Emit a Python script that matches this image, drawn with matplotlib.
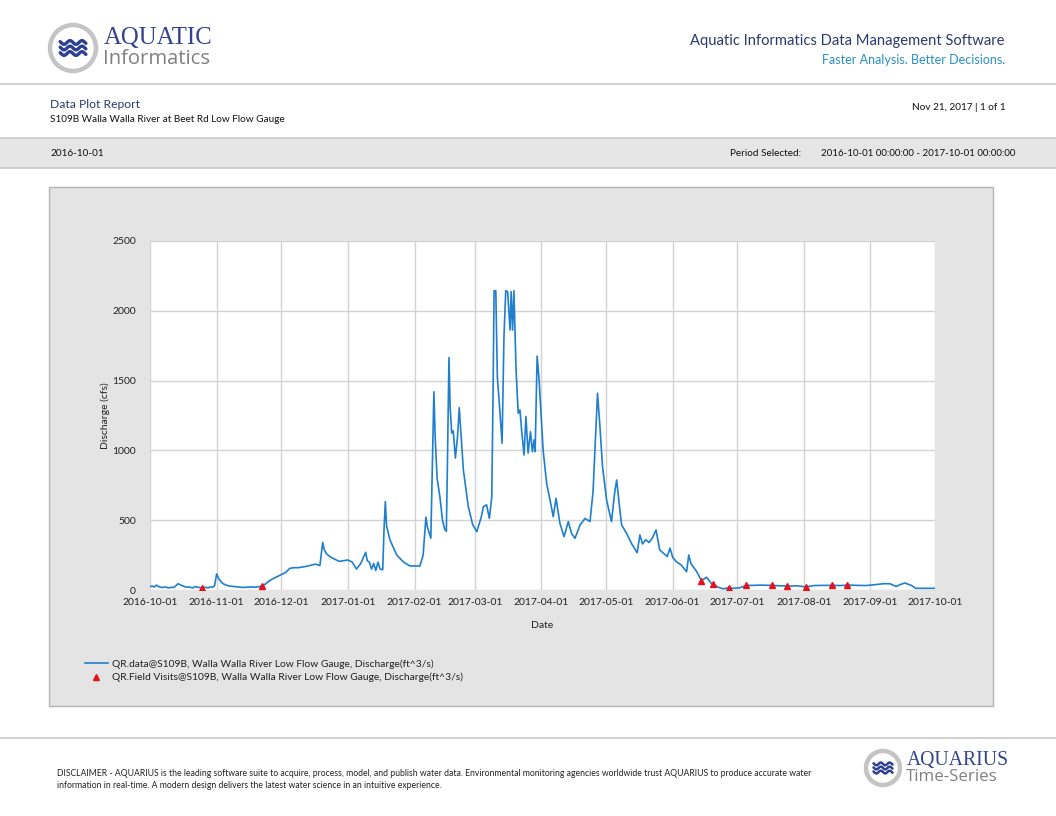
import numpy as np
import pandas as pd
import matplotlib
matplotlib.use("Agg")
import matplotlib.pyplot as plt
import matplotlib.dates as mdates
from matplotlib.patches import Rectangle, Circle

# ---------------- data ----------------
flow_times = [
    "2016-10-01", "2016-10-02", "2016-10-03", "2016-10-04", "2016-10-05", "2016-10-06",
    "2016-10-07", "2016-10-08", "2016-10-09", "2016-10-10", "2016-10-11", "2016-10-12",
    "2016-10-13", "2016-10-14", "2016-10-15", "2016-10-16", "2016-10-17", "2016-10-18",
    "2016-10-19", "2016-10-20", "2016-10-21", "2016-10-22", "2016-10-23", "2016-10-24",
    "2016-10-25", "2016-10-26", "2016-10-27", "2016-10-28", "2016-10-29", "2016-10-30",
    "2016-10-31", "2016-11-01", "2016-11-02", "2016-11-03", "2016-11-04", "2016-11-05",
    "2016-11-06", "2016-11-07", "2016-11-09", "2016-11-11", "2016-11-13", "2016-11-15",
    "2016-11-17", "2016-11-19", "2016-11-21", "2016-11-23", "2016-11-25", "2016-11-27",
    "2016-11-29", "2016-12-01", "2016-12-03", "2016-12-05", "2016-12-07", "2016-12-09",
    "2016-12-11", "2016-12-13", "2016-12-15", "2016-12-17", "2016-12-19", "2016-12-20 07:00",
    "2016-12-21", "2016-12-22", "2016-12-24", "2016-12-26", "2016-12-28", "2016-12-30",
    "2017-01-01", "2017-01-03", "2017-01-05", "2017-01-07", "2017-01-09 07:00", "2017-01-10",
    "2017-01-11", "2017-01-12", "2017-01-13", "2017-01-14", "2017-01-15", "2017-01-16",
    "2017-01-17 05:00", "2017-01-17 20:00", "2017-01-18 10:00", "2017-01-19", "2017-01-20 14:00",
    "2017-01-23 17:00", "2017-01-26 19:00", "2017-01-29 22:00", "2017-02-01", "2017-02-03 12:00",
    "2017-02-05", "2017-02-06 07:00", "2017-02-07", "2017-02-08 14:00", "2017-02-09 07:00",
    "2017-02-10", "2017-02-10 14:00", "2017-02-11 12:00", "2017-02-12 19:00", "2017-02-14",
    "2017-02-15", "2017-02-15 19:00", "2017-02-16 07:00", "2017-02-17", "2017-02-17 14:00",
    "2017-02-18 07:00", "2017-02-19", "2017-02-20", "2017-02-21", "2017-02-21 19:00",
    "2017-02-23 17:00", "2017-02-26", "2017-02-28", "2017-03-01 22:00", "2017-03-04",
    "2017-03-05", "2017-03-06 12:00", "2017-03-07 19:00", "2017-03-08 22:00", "2017-03-09 12:00",
    "2017-03-10", "2017-03-10 19:00", "2017-03-11 12:00", "2017-03-12 10:00", "2017-03-13 17:00",
    "2017-03-14 14:00", "2017-03-15 10:00", "2017-03-16 07:00", "2017-03-17 10:00",
    "2017-03-17 22:00", "2017-03-18 14:00", "2017-03-19 05:00", "2017-03-20 05:00",
    "2017-03-21 05:00", "2017-03-22", "2017-03-22 19:00", "2017-03-23 22:00", "2017-03-24 19:00",
    "2017-03-25 19:00", "2017-03-26 22:00", "2017-03-27 19:00", "2017-03-28 14:00",
    "2017-03-29 02:00", "2017-03-30", "2017-03-30 22:00", "2017-04-01 19:00", "2017-04-03 10:00",
    "2017-04-05", "2017-04-06 12:00", "2017-04-07 19:00", "2017-04-09 14:00", "2017-04-11 12:00",
    "2017-04-13 12:00", "2017-04-15", "2017-04-16 14:00", "2017-04-19", "2017-04-21 07:00",
    "2017-04-23 14:00", "2017-04-25", "2017-04-26 10:00", "2017-04-27 02:00", "2017-04-28 05:00",
    "2017-04-29 10:00", "2017-05-01 07:00", "2017-05-03 14:00", "2017-05-05", "2017-05-06",
    "2017-05-07 05:00", "2017-05-08 07:00", "2017-05-10 14:00", "2017-05-13", "2017-05-15 12:00",
    "2017-05-16 19:00", "2017-05-18", "2017-05-19 12:00", "2017-05-21", "2017-05-22 12:00",
    "2017-05-24 07:00", "2017-05-26", "2017-05-28", "2017-05-29 12:00", "2017-05-30 19:00",
    "2017-06-01", "2017-06-02 17:00", "2017-06-05", "2017-06-07 12:00", "2017-06-08 12:00",
    "2017-06-09 12:00", "2017-06-12 05:00", "2017-06-14 10:00", "2017-06-16 19:00", "2017-06-19",
    "2017-06-20 05:00", "2017-06-21 12:00", "2017-06-24 14:00", "2017-06-27 05:00", "2017-06-29",
    "2017-07-02 07:00", "2017-07-05 10:00", "2017-07-08", "2017-07-12", "2017-07-17",
    "2017-07-21", "2017-07-25", "2017-07-29", "2017-08-02", "2017-08-06", "2017-08-10",
    "2017-08-14", "2017-08-18", "2017-08-22", "2017-08-26", "2017-08-30", "2017-09-03",
    "2017-09-07", "2017-09-10", "2017-09-13", "2017-09-15", "2017-09-17", "2017-09-20",
    "2017-09-22", "2017-09-25", "2017-10-01",
]
flow_cfs = [
    25, 28, 22, 35, 24, 20,
    18, 22, 17, 15, 20, 18,
    30, 45, 38, 30, 25, 20,
    22, 18, 15, 25, 20, 18,
    15, 20, 18, 15, 22, 20,
    30, 115, 80, 60, 45, 38,
    32, 28, 25, 22, 18, 20,
    22, 20, 25, 35, 60, 80,
    95, 110, 125, 155, 160, 160,
    165, 170, 178, 185, 175, 341,
    290, 260, 235, 220, 205, 210,
    215, 200, 150, 190, 270, 210,
    200, 150, 190, 140, 200, 150,
    145, 442, 633, 458, 358,
    251, 201, 172, 172, 172,
    250, 522, 450, 371, 900,
    1420, 1100, 800, 668, 500,
    436, 420, 900, 1664, 1300,
    1124, 1140, 945, 1100, 1306,
    860, 597, 470, 418, 520,
    597, 610, 513, 669, 1400,
    2144, 2144, 1528, 1337, 1051,
    1815, 2144, 2137, 1862,
    2137, 1862, 2144, 1576,
    1266, 1290, 1146, 967, 1242,
    981, 1134, 991, 1075,
    991, 1676, 1504, 1003, 764,
    645, 525, 657, 478, 382,
    490, 406, 370, 466, 513,
    490, 704, 1194, 1409, 1170,
    883, 645, 490, 692, 788,
    609, 466, 406, 330, 267,
    394, 330, 360, 340, 370,
    430, 287, 260, 240, 300,
    235, 203, 179, 131, 251,
    190, 131, 67, 91, 48,
    40, 24, 8, 17, 12,
    16, 33, 33, 35, 33,
    30, 28, 30, 22, 32, 33,
    33, 32, 35, 33, 32, 38,
    45, 45, 25, 40, 50, 33,
    12, 12, 12,
]

visit_times = [
    "2016-10-25", "2016-11-22", "2017-06-14", "2017-06-20", "2017-06-27", "2017-07-05",
    "2017-07-17", "2017-07-24", "2017-08-02", "2017-08-14", "2017-08-21",
]
visit_cfs = [12, 29, 67, 40, 17, 33, 33, 26, 23, 33, 33]

tick_dates = [
    "2016-10-01", "2016-11-01", "2016-12-01", "2017-01-01", "2017-02-01", "2017-03-01",
    "2017-04-01", "2017-05-01", "2017-06-01", "2017-07-01", "2017-08-01", "2017-09-01",
    "2017-10-01",
]
y_ticks = [0, 500, 1000, 1500, 2000, 2500]

series_label = "QR.data@S109B, Walla Walla River Low Flow Gauge, Discharge(ft^3/s)"
visit_label = "QR.Field Visits@S109B, Walla Walla River Low Flow Gauge, Discharge(ft^3/s)"

# ---------------- figure ----------------
W, H = 1056, 816
plt.rcParams["font.family"] = ["Lato", "DejaVu Sans"]
fig = plt.figure(figsize=(W / 100, H / 100), dpi=100)
fig.patch.set_facecolor("white")

# background/overlay axes in pixel units (y downwards)
bg = fig.add_axes([0, 0, 1, 1], zorder=0)
bg.set_xlim(0, W)
bg.set_ylim(H, 0)
bg.axis("off")

NAVY = "#2b3a6e"
GREY_LINE = "#c8c8c8"
SMALL = 7.2


def logo(cx, cy, r):
    bg.add_patch(Circle((cx, cy), r, facecolor="white", edgecolor="#c4c4c4", lw=3.2))
    xs = np.linspace(-0.56 * r, 0.56 * r, 80)
    for dy in (-0.24 * r, 0.0, 0.24 * r):
        ys = cy + dy + 0.08 * r * np.sin(2 * np.pi * xs / (0.52 * r))
        bg.plot(cx + xs, ys, color="#2b3f93", lw=2.4 * r / 23, solid_capstyle="round")


# header logo
logo(73, 48, 23)
bg.text(104, 38, "AQUATIC", fontsize=17.8, color="#34428f", family="Liberation Serif",
        va="center", ha="left")
bg.text(103, 59, "Informatics", fontsize=14.6, color="#808080", family="Open Sans",
        va="center", ha="left")

bg.text(1005, 41, "Aquatic Informatics Data Management Software", fontsize=10.6,
        color=NAVY, ha="right", va="center")
bg.text(1005, 60, "Faster Analysis. Better Decisions.", fontsize=9.0,
        color="#2a8fc5", ha="right", va="center")

bg.plot([0, W], [84, 84], color=GREY_LINE, lw=1.2)

bg.text(50, 104, "Data Plot Report", fontsize=8.7, color=NAVY, ha="left", va="center")
bg.text(50, 119, "S109B Walla Walla River at Beet Rd Low Flow Gauge", fontsize=SMALL,
        color="#111111", ha="left", va="center")
bg.text(1006, 107, "Nov 21, 2017 | 1 of 1", fontsize=SMALL, color="#111111",
        ha="right", va="center")

# grey band
bg.add_patch(Rectangle((0, 138), W, 30, facecolor="#e6e6e6", edgecolor="none"))
bg.plot([0, W], [138, 138], color=GREY_LINE, lw=1.2)
bg.plot([0, W], [168, 168], color=GREY_LINE, lw=1.2)
bg.text(50, 153, "2016-10-01", fontsize=SMALL, color="#111111", ha="left", va="center")
bg.text(730, 153, "Period Selected:", fontsize=SMALL, color="#111111", ha="left", va="center")
bg.text(1015, 153, "2016-10-01 00:00:00 - 2017-10-01 00:00:00", fontsize=7.0,
        color="#111111", ha="right", va="center")

# chart panel
bg.add_patch(Rectangle((48.5, 186.5), 944, 519, facecolor="#e4e4e4",
                       edgecolor="#b4b4b4", lw=1))

# footer
bg.plot([0, W], [738, 738], color=GREY_LINE, lw=1.2)
bg.text(57, 773, "DISCLAIMER - AQUARIUS is the leading software suite to acquire, process, "
        "model, and publish water data. Environmental monitoring agencies worldwide trust "
        "AQUARIUS to produce accurate water", fontsize=6.25, color="#222222",
        ha="left", va="center")
bg.text(57, 785, "information in real-time. A modern design delivers the latest water "
        "science in an intuitive experience.", fontsize=6.25, color="#222222",
        ha="left", va="center")
logo(883, 768, 17)
bg.text(907, 760, "AQUARIUS", fontsize=14.2, color="#34428f", family="Liberation Serif",
        ha="left", va="center")
bg.text(906, 777, "Time-Series", fontsize=12.2, color="#808080", family="Open Sans",
        ha="left", va="center")

# ---------------- plot axes ----------------
ax = fig.add_axes([150 / W, 1 - 590 / H, 785 / W, 349 / H], zorder=2)
ax.set_facecolor("white")

t = pd.to_datetime(flow_times, format="mixed")
vt = pd.to_datetime(visit_times, format="mixed")
ln, = ax.plot(t, flow_cfs, color="#1f7fcf", lw=1.2, label=series_label, zorder=3)
mk, = ax.plot(vt, visit_cfs, linestyle="none", marker="^", markersize=4.8,
              color="#e3121b", label=visit_label, zorder=4)

ax.set_xlim(pd.Timestamp(tick_dates[0]), pd.Timestamp(tick_dates[-1]))
ax.set_ylim(0, 2500)
ax.set_xticks(pd.to_datetime(tick_dates))
ax.xaxis.set_major_formatter(mdates.DateFormatter("%Y-%m-%d"))
ax.set_yticks(y_ticks)
ax.tick_params(axis="both", length=0, labelsize=7.5, colors="#222222")
ax.tick_params(axis="x", pad=6)
ax.tick_params(axis="y", pad=10)
ax.grid(True, color="#d2d2d2", lw=1)
ax.set_axisbelow(True)
for s in ax.spines.values():
    s.set_visible(False)

ax.set_xlabel("Date", fontsize=7.5, color="#222222", labelpad=10)
ax.set_ylabel("Discharge (cfs)", fontsize=7.5, color="#222222", labelpad=2)

leg = ax.legend(handles=[ln, mk], loc="upper left",
                bbox_to_anchor=(80 / W, 1 - 654 / H), bbox_transform=fig.transFigure,
                frameon=False, fontsize=7.35, handlelength=2.2, handletextpad=0.4,
                labelspacing=0.4, borderpad=0)
for txt in leg.get_texts():
    txt.set_color("#222222")

fig.savefig("out.png", dpi=100, facecolor="white")
